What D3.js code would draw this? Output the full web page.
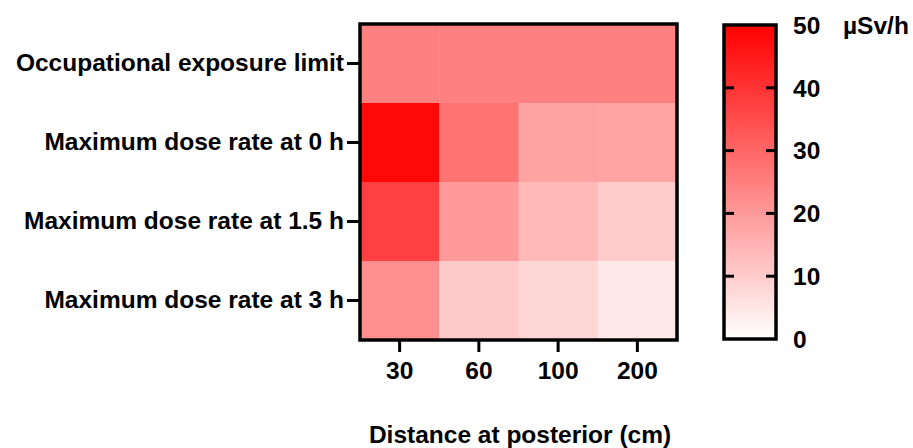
<!DOCTYPE html>
<html>
<head>
<meta charset="utf-8">
<script src="https://cdn.jsdelivr.net/npm/d3@7"></script>
<style>
  html, body { margin: 0; padding: 0; background: #fff; }
  svg text { font-family: "Liberation Sans", Arial, sans-serif; font-weight: bold; fill: #000; }
</style>
</head>
<body>
<svg id="chart" width="913" height="448"></svg>
<script>
const rowLabels = ["Occupational exposure limit", "Maximum dose rate at 0 h", "Maximum dose rate at 1.5 h", "Maximum dose rate at 3 h"];
const distances = ["30", "60", "100", "200"];
const rowOEL   = [25, 25, 25, 25];
const row0h    = [48.5, 27.5, 18.2, 18.0];
const row15h   = [37.5, 19.8, 13.7, 10.0];
const row3h    = [22.0, 10.6, 8.1, 4.5];
const colorTicks = [0, 10, 20, 30, 40, 50];
const unitLabel = "µSv/h";
const xTitle = "Distance at posterior (cm)";

const rows = [rowOEL, row0h, row15h, row3h];
const cells = [];
rows.forEach((vals, i) => vals.forEach((v, j) => cells.push({ row: rowLabels[i], col: distances[j], value: v })));

const svg = d3.select("#chart");
const fs = 24.5;

const x = d3.scaleBand().domain(distances).range([360, 677]);
const y = d3.scaleBand().domain(rowLabels).range([24, 340]);
const color = d3.scaleLinear().domain([0, 50]).range(["#ffffff", "#ff0000"]).interpolate(d3.interpolateRgb);

svg.append("g").selectAll("rect").data(cells).join("rect")
  .attr("x", d => x(d.col))
  .attr("y", d => y(d.row))
  .attr("width", x.bandwidth() + 0.5)
  .attr("height", y.bandwidth() + 0.5)
  .attr("fill", d => color(d.value));

svg.append("rect")
  .attr("x", 360).attr("y", 24).attr("width", 317).attr("height", 316)
  .attr("fill", "none").attr("stroke", "#000").attr("stroke-width", 3.5);

const yAxis = svg.append("g").attr("transform", "translate(359,0)")
  .call(d3.axisLeft(y).tickSize(12).tickPadding(3));
yAxis.select(".domain").remove();
yAxis.selectAll(".tick line").attr("stroke", "#000").attr("stroke-width", 3);
yAxis.selectAll(".tick text").style("font-size", fs + "px").attr("font-family", null);

const xAxis = svg.append("g").attr("transform", "translate(0,341)")
  .call(d3.axisBottom(x).tickSize(11).tickPadding(10));
xAxis.select(".domain").remove();
xAxis.selectAll(".tick line").attr("stroke", "#000").attr("stroke-width", 3);
xAxis.selectAll(".tick text").style("font-size", fs + "px").attr("font-family", null);

svg.append("text")
  .attr("x", 520).attr("y", 443)
  .attr("text-anchor", "middle")
  .style("font-size", fs + "px")
  .text(xTitle);

// Color bar
const cb = { x: 724, w: 52 };
const cy = d3.scaleLinear().domain([0, 50]).range([339, 25]);
const defs = svg.append("defs");
const grad = defs.append("linearGradient").attr("id", "cbgrad")
  .attr("x1", 0).attr("y1", 1).attr("x2", 0).attr("y2", 0);
colorTicks.forEach(t => grad.append("stop").attr("offset", t / 50).attr("stop-color", color(t)));

svg.append("rect")
  .attr("x", cb.x).attr("y", cy(50)).attr("width", cb.w).attr("height", cy(0) - cy(50))
  .attr("fill", "url(#cbgrad)").attr("stroke", "#000").attr("stroke-width", 3.5);

const inner = colorTicks.filter(t => t > 0 && t < 50);
svg.append("g").selectAll("line.l").data(inner).join("line")
  .attr("x1", cb.x).attr("x2", cb.x + 10)
  .attr("y1", d => cy(d)).attr("y2", d => cy(d))
  .attr("stroke", "#000").attr("stroke-width", 3);
svg.append("g").selectAll("line.r").data(inner).join("line")
  .attr("x1", cb.x + cb.w - 10).attr("x2", cb.x + cb.w)
  .attr("y1", d => cy(d)).attr("y2", d => cy(d))
  .attr("stroke", "#000").attr("stroke-width", 3);

svg.append("g").selectAll("text").data(colorTicks).join("text")
  .attr("x", 793)
  .attr("y", d => cy(d))
  .attr("dy", "0.36em")
  .style("font-size", fs + "px")
  .text(d => d);

svg.append("text")
  .attr("x", 843).attr("y", cy(50)).attr("dy", "0.36em")
  .style("font-size", fs + "px")
  .text(unitLabel);
</script>
</body>
</html>
